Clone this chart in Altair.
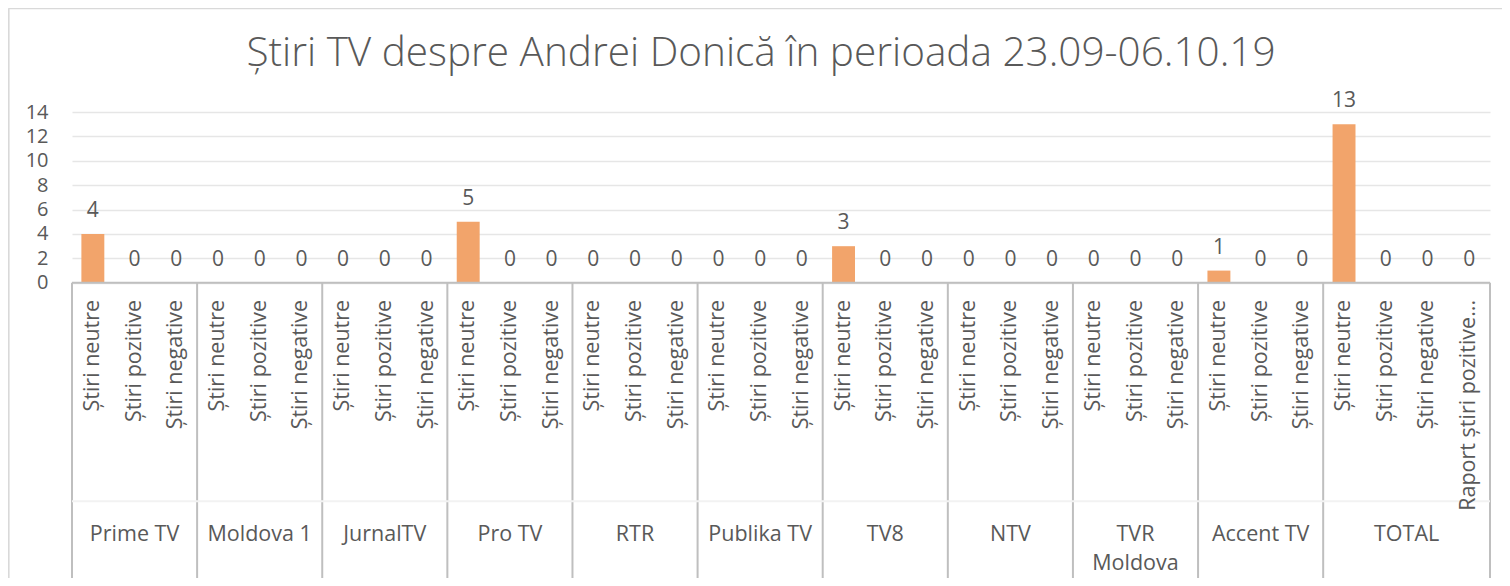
import altair as alt
import pandas as pd

title_text = "Știri TV despre Andrei Donică în perioada 23.09-06.10.19"

groups = ["Prime TV", "Moldova 1", "JurnalTV", "Pro TV", "RTR", "Publika TV",
          "TV8", "NTV", "TVR\nMoldova", "Accent TV", "TOTAL"]
subs_channel = ["Știri neutre", "Știri pozitive", "Știri negative"]
subs_total = ["Știri neutre", "Știri pozitive", "Știri negative", "Raport știri pozitive..."]

values_prime = [4, 0, 0]
values_moldova1 = [0, 0, 0]
values_jurnal = [0, 0, 0]
values_protv = [5, 0, 0]
values_rtr = [0, 0, 0]
values_publika = [0, 0, 0]
values_tv8 = [3, 0, 0]
values_ntv = [0, 0, 0]
values_tvr = [0, 0, 0]
values_accent = [1, 0, 0]
values_total = [13, 0, 0, 0]

y_ticks = [0, 2, 4, 6, 8, 10, 12, 14]

all_values = [values_prime, values_moldova1, values_jurnal, values_protv, values_rtr,
              values_publika, values_tv8, values_ntv, values_tvr, values_accent, values_total]

YMIN, YMAX = -24.2, 14
SUB_Y = -1.4
GRP_Y = -19.75

rows, grp_rows, bounds = [], [], [0]
i = 0
for g, vals in zip(groups, all_values):
    subs = subs_total if len(vals) == 4 else subs_channel
    start = i
    for s, v in zip(subs, vals):
        rows.append({"group": g, "sub": s, "value": v, "zero": 0, "x0": i + 0.225,
                     "x1": i + 0.775, "xc": i + 0.5, "label": str(v), "suby": SUB_Y})
        i += 1
    grp_rows.append({"group": g, "xc": (start + i) / 2, "gy": GRP_Y})
    bounds.append(i)
N = i

df = pd.DataFrame(rows)
dg = pd.DataFrame(grp_rows)
db = pd.DataFrame({"b": bounds, "ytop": [0] * len(bounds), "ybot": [YMIN] * len(bounds)})
dh = pd.DataFrame({"xa": [0, 0], "xb": [N, N], "yv": [0, -17.9],
                   "kind": ["axis", "mid"]})
dtitle = pd.DataFrame({"t": [title_text], "tx": [16.52], "ty": [18.75]})
# chart-area border (outside plot, in data units)
dborder = pd.DataFrame({"xa": [-1.52, -1.52], "xb": [-1.52, 35.2],
                        "ya": [YMIN - 1, 22.5], "yb": [22.5, 22.5]})

FONT = "Open Sans"
TXT = "#595959"
LINE = "#BFBFBF"

xs = alt.Scale(domain=[0, N], nice=False, zero=False)
ys = alt.Scale(domain=[YMIN, YMAX], nice=False, zero=False)
yaxis = alt.Axis(values=y_ticks, domain=False, ticks=False, title=None,
                 labelFontSize=20, labelFont=FONT, labelColor=TXT, labelPadding=24,
                 gridColor="#E6E6E6", gridWidth=1.5)


def Y(field):
    return alt.Y(field, scale=ys, axis=yaxis)


def X(field):
    return alt.X(field, scale=xs, axis=None)


bars = alt.Chart(df).mark_bar(color="#F2A46B").encode(
    x=X("x0:Q"), x2="x1:Q", y=Y("value:Q"), y2="zero:Q",
)

vlabels = alt.Chart(df).mark_text(font=FONT, fontSize=21, color=TXT,
                                  baseline="alphabetic", dy=-17).encode(
    x=X("xc:Q"), y=Y("value:Q"), text="label:N",
)

sublabels = alt.Chart(df).mark_text(font=FONT, fontSize=21.5, color=TXT, angle=270,
                                    align="right", baseline="middle").encode(
    x=X("xc:Q"), y=Y("suby:Q"), text="sub:N",
)

glabels = alt.Chart(dg).mark_text(font=FONT, fontSize=21.5, color=TXT, align="center",
                                  baseline="top", lineBreak="\n", lineHeight=29).encode(
    x=X("xc:Q"), y=Y("gy:Q"), text="group:N",
)

seps = alt.Chart(db).mark_rule(color=LINE, strokeWidth=2).encode(
    x=X("b:Q"), y=Y("ytop:Q"), y2="ybot:Q",
)

hlines = alt.Chart(dh).mark_rule(strokeWidth=2).encode(
    x=X("xa:Q"), x2="xb:Q", y=Y("yv:Q"),
    color=alt.Color("kind:N", scale=alt.Scale(domain=["axis", "mid"],
                                              range=[LINE, "#F2F2F2"]), legend=None),
)

border = alt.Chart(dborder).mark_rule(color="#D9D9D9", strokeWidth=2, clip=False).encode(
    x=X("xa:Q"), x2="xb:Q", y=Y("ya:Q"), y2="yb:Q",
)

title = alt.Chart(dtitle).mark_text(font=FONT, fontSize=40.5, fontWeight=300, color=TXT,
                                    align="center", baseline="middle").encode(
    x=X("tx:Q"), y=Y("ty:Q"), text="t:N",
)

chart = alt.layer(border, bars, seps, hlines, vlabels, sublabels, glabels, title).properties(
    width=1418, height=466,
    autosize=alt.AutoSizeParams(type="none"),
    padding={"left": 64, "top": 104, "right": 12, "bottom": 0},
).configure_view(stroke=None)

chart.save("out.html", embed_options={"renderer": "svg", "actions": False})
